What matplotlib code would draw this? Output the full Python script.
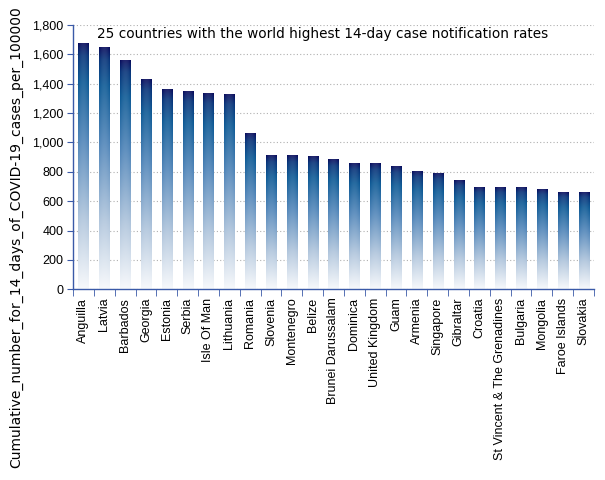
import numpy as np
import matplotlib
matplotlib.use("Agg")
import matplotlib.pyplot as plt
from matplotlib.colors import LinearSegmentedColormap
from matplotlib.ticker import FuncFormatter, MultipleLocator

countries = ["Anguilla", "Latvia", "Barbados", "Georgia", "Estonia", "Serbia",
             "Isle Of Man", "Lithuania", "Romania", "Slovenia", "Montenegro",
             "Belize", "Brunei Darussalam", "Dominica", "United Kingdom", "Guam",
             "Armenia", "Singapore", "Gibraltar", "Croatia",
             "St Vincent & The Grenadines", "Bulgaria", "Mongolia",
             "Faroe Islands", "Slovakia"]
values = [1667, 1646, 1553, 1422, 1356, 1342, 1333, 1322, 1058, 909, 909,
          900, 882, 857, 857, 830, 798, 784, 736, 691, 691, 691, 677, 657, 657]

title = "25 countries with the world highest 14-day case notification rates"
ylabel = "Cumulative_number_for_14_days_of_COVID-19_cases_per_100000"

fig = plt.figure(figsize=(6.05, 4.8), dpi=100)
ax = fig.add_axes([73/605, 1 - 289.3/480, (594-73)/605, (289.3-24.7)/480])

x = np.arange(len(countries))
width = 0.48
bars = ax.bar(x, values, width=width, color="none", edgecolor="none", zorder=2)

cmap = LinearSegmentedColormap.from_list(
    "g", [(0.0, "#f6f8fb"), (0.28, "#b0c5dc"), (0.6, "#4f84b8"),
          (0.84, "#0b5894"), (0.95, "#053278"), (1.0, "#05095a")])
grad = np.linspace(0, 1, 256).reshape(-1, 1)
img = cmap(grad)[:, :, :3]
img = np.repeat(img, 32, axis=1)
img = 1 - (1 - img) * (0.88 + 0.12 * (np.linspace(-1, 1, 32) ** 2))[None, :, None]
for b in bars:
    x0 = b.get_x()
    h = b.get_height()
    ax.imshow(img, extent=[x0, x0 + b.get_width(), 0, h], origin="lower",
              aspect="auto", zorder=2, interpolation="bilinear")

ax.set_xlim(-0.5, len(countries) - 0.5)
ax.set_ylim(0, 1800)
ax.yaxis.set_major_locator(MultipleLocator(200))
ax.yaxis.set_major_formatter(FuncFormatter(lambda v, p: f"{int(v):,}"))
ax.grid(axis="y", linestyle=(0, (1, 2)), color="#b0b0b0", linewidth=0.8, zorder=0)
ax.set_axisbelow(True)

ax.set_xticks(x)
ax.set_xticklabels(countries, rotation=90, fontsize=9, family="Liberation Sans")
ax.set_xticks(np.arange(-0.5, len(countries)), minor=True)
ax.tick_params(axis="x", which="major", length=0, pad=6)
ax.tick_params(axis="x", which="minor", length=5, color="#3a5aa8", direction="out")
ax.tick_params(axis="y", length=4, color="#3a5aa8", labelsize=9, pad=3)
for lab in ax.get_yticklabels():
    lab.set_family("Liberation Sans")

for s in ["top", "right"]:
    ax.spines[s].set_visible(False)
for s in ["left", "bottom"]:
    ax.spines[s].set_color("#3a5aa8")
    ax.spines[s].set_linewidth(1.0)

fig.text(97/605, 1 - 34/480, title, fontsize=9.8,
         family="DejaVu Sans", va="center", ha="left")
fig.text(16/605, 1 - 237/480, ylabel, rotation=90, fontsize=10,
         family="DejaVu Sans", va="center", ha="center")

fig.savefig("out.png", dpi=100, facecolor="white")
